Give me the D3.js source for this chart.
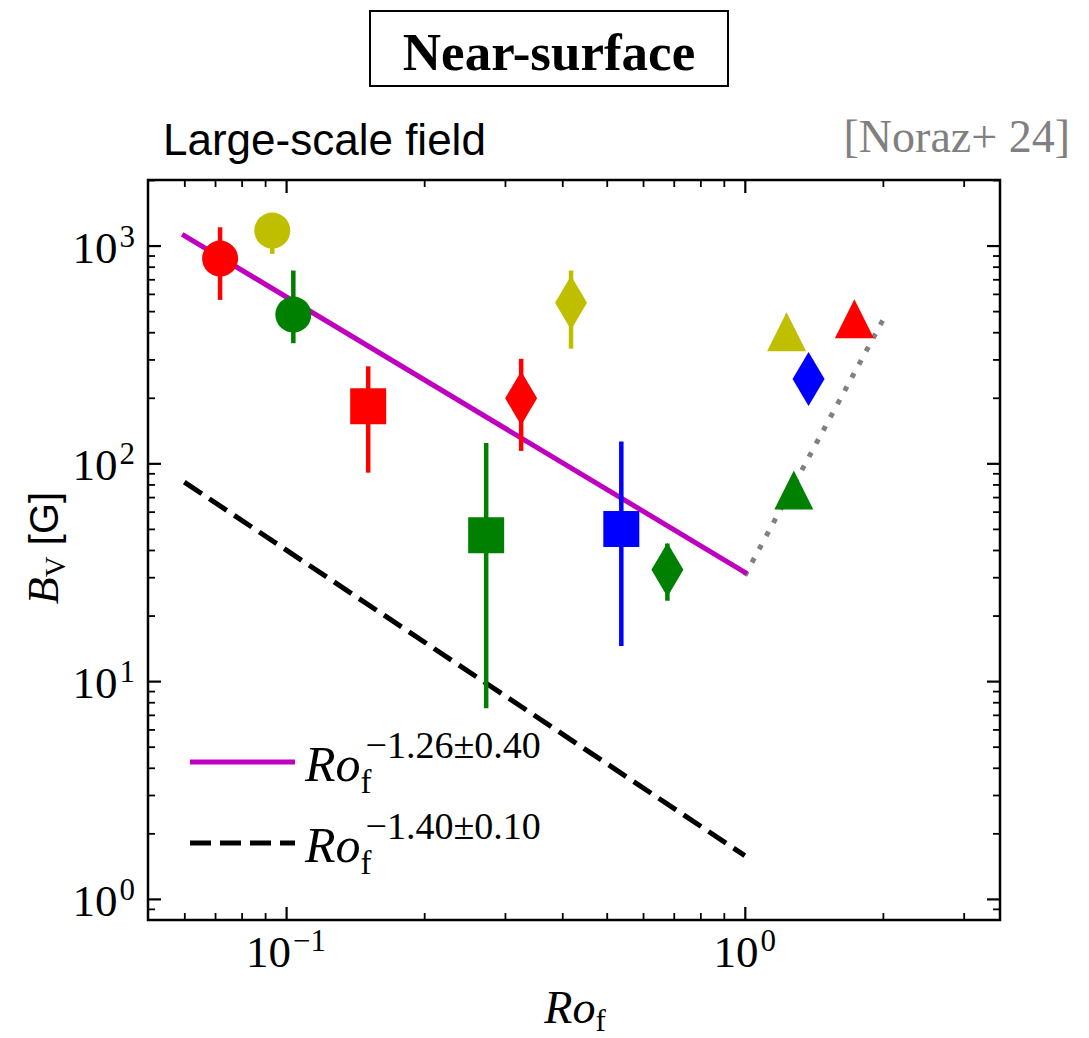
<!DOCTYPE html>
<html><head><meta charset="utf-8">
<script src="https://cdn.jsdelivr.net/npm/d3@7"></script>
<style>body{margin:0;background:#fff}</style>
</head><body><svg id="c" width="1089" height="1038"></svg>
<script>
// ---------------- data ----------------
const rossby   = [0.0718, 0.0933, 0.1037, 0.151, 0.3254, 0.273, 0.418, 0.538, 0.678, 1.233, 1.733, 1.377, 1.279];
const bField   = [871, 1172, 482, 183, 199, 46.7, 546, 50, 32.5, 402, 461, 244, 75.4];
const errLow   = [563, 916, 356, 90.6, 114, 7.5, 336, 14.5, 23.4, null, null, null, null];
const errHigh  = [1213, 1300, 768, 279, 302, 124, 768, 126, 42.8, null, null, null, null];
const shapes   = ["circle","circle","circle","square","diamond","square","diamond","square","diamond","triangle","triangle","diamond","triangle"];
const groups   = ["r","y","g","r","r","g","y","b","g","y","r","b","g"];

const fitRo    = [0.06, 1.0];
const fitB     = [1110, 31.6];          // Ro^-1.26
const refRo    = [0.06, 1.0];
const refB     = [82, 1.58];            // Ro^-1.40
const dotRo    = [1.0, 2.0];
const dotB     = [30.5, 455];

const xMajor = [0.1, 1];
const xMinor = [0.06,0.07,0.08,0.09,0.2,0.3,0.4,0.5,0.6,0.7,0.8,0.9,2,3];
const yMajor = [1, 10, 100, 1000];
const yMinor = [0.9,2,3,4,5,6,7,8,9,20,30,40,50,60,70,80,90,200,300,400,500,600,700,800,900,2000];
const xExp = {0.1:"−1", 1:"0"};
const yExp = {1:"0", 10:"1", 100:"2", 1000:"3"};

const legendLabels = ["−1.26±0.40", "−1.40±0.10"];

// ---------------- setup ----------------
const colors = {r:"#ff0000", y:"#bfbf00", g:"#008000", b:"#0000ff"};
const svg = d3.select("#c");
svg.append("rect").attr("width",1089).attr("height",1038).attr("fill","#fff");

const L=148, R=1000, T=180, B=920;
const x = d3.scaleLog().domain([0.05, 3.6]).range([L, R]);
const y = d3.scaleLog().domain([0.8, 2000]).range([B, T]);

const serif = "'Liberation Serif','Times New Roman',serif";
const sans = "'Liberation Sans',Arial,sans-serif";

// axes (inward ticks, all sides)
function axisPair(gen, tr, majors, minors){
  const gM = svg.append("g").attr("transform", tr)
    .call(gen.tickValues(majors).tickSize(-13).tickSizeOuter(0).tickFormat(""));
  const gm = svg.append("g").attr("transform", tr)
    .call(gen.tickValues(minors).tickSize(-7).tickSizeOuter(0).tickFormat(""));
  [gM, gm].forEach(g=>{ g.select(".domain").remove(); });
  gM.selectAll(".tick line").attr("stroke","#000").attr("stroke-width",2.2);
  gm.selectAll(".tick line").attr("stroke","#000").attr("stroke-width",1.8);
}
axisPair(d3.axisBottom(x), `translate(0,${B})`, xMajor, xMinor);
axisPair(d3.axisTop(x), `translate(0,${T})`, xMajor, xMinor);
axisPair(d3.axisLeft(y), `translate(${L},0)`, yMajor, yMinor);
axisPair(d3.axisRight(y), `translate(${R},0)`, yMajor, yMinor);

// tick labels
function powLabel(px, py, exp, anchor){
  const t = svg.append("text").attr("x",px).attr("y",py).attr("text-anchor",anchor)
    .attr("font-family",serif).attr("font-size",45).attr("fill","#000");
  t.append("tspan").text("10");
  t.append("tspan").attr("font-size",31).attr("dx",2).attr("dy",-16).text(exp);
}
xMajor.forEach(v=> powLabel(x(v), 967, xExp[v], "middle"));
yMajor.forEach(v=> powLabel(L-13, y(v)+17, yExp[v], "end"));

// plot area clip
svg.append("clipPath").attr("id","clip").append("rect").attr("x",L).attr("y",T).attr("width",R-L).attr("height",B-T);
const plot = svg.append("g").attr("clip-path","url(#clip)");

const line = d3.line().x(d=>x(d[0])).y(d=>y(d[1]));
plot.append("path").datum(d3.zip(refRo, refB)).attr("d", line)
  .attr("fill","none").attr("stroke","#000").attr("stroke-width",5).attr("stroke-dasharray","21,9");
plot.append("path").datum(d3.zip(dotRo, dotB)).attr("d", line)
  .attr("fill","none").attr("stroke","#808080").attr("stroke-width",5).attr("stroke-dasharray","5,10");
plot.append("path").datum(d3.zip(fitRo, fitB)).attr("d", line)
  .attr("fill","none").attr("stroke","#bf00bf").attr("stroke-width",5).attr("stroke-linecap","square");

// error bars
rossby.forEach((r,i)=>{
  if (errLow[i]==null) return;
  plot.append("line").attr("x1",x(r)).attr("x2",x(r)).attr("y1",y(errLow[i])).attr("y2",y(errHigh[i]))
    .attr("stroke",colors[groups[i]]).attr("stroke-width",4.5);
});

// markers
const shapeTypes = {
  circle:{draw(c,s){ c.moveTo(18,0); c.arc(0,0,18,0,2*Math.PI); c.closePath(); }},
  square:{draw(c,s){ c.rect(-18,-18,36,36); }},
  diamond:{draw(c,s){ c.moveTo(0,-27); c.lineTo(16,0); c.lineTo(0,27); c.lineTo(-16,0); c.closePath(); }},
  triangle:{draw(c,s){ c.moveTo(0,-19.5); c.lineTo(19.5,19.5); c.lineTo(-19.5,19.5); c.closePath(); }}
};
rossby.forEach((r,i)=>{
  plot.append("path").attr("d", d3.symbol().type(shapeTypes[shapes[i]])())
    .attr("transform",`translate(${x(r)},${y(bField[i])})`)
    .attr("fill",colors[groups[i]]);
});

// frame
svg.append("rect").attr("x",L).attr("y",T).attr("width",R-L).attr("height",B-T)
  .attr("fill","none").attr("stroke","#000").attr("stroke-width",2.5);

// legend
const legY = [762, 843];
svg.append("line").attr("x1",190).attr("x2",295).attr("y1",legY[0]).attr("y2",legY[0])
  .attr("stroke","#bf00bf").attr("stroke-width",5);
svg.append("line").attr("x1",190).attr("x2",295).attr("y1",legY[1]).attr("y2",legY[1])
  .attr("stroke","#000").attr("stroke-width",5).attr("stroke-dasharray","21,9");
legendLabels.forEach((lab,i)=>{
  const t = svg.append("text").attr("x",305).attr("y",legY[i]+19)
    .attr("font-family",serif).attr("font-size",50).attr("fill","#000");
  t.append("tspan").attr("font-style","italic").text("Ro");
  t.append("tspan").attr("font-size",33).attr("dy",12).text("f");
  t.append("tspan").attr("font-size",38).attr("dx",-6).attr("dy",-35).text(lab);
});

// axis labels
const xl = svg.append("text").attr("x",575).attr("y",1023).attr("text-anchor","middle")
  .attr("font-family",serif).attr("font-size",46).attr("fill","#000");
xl.append("tspan").attr("font-style","italic").text("Ro");
xl.append("tspan").attr("font-size",31).attr("dy",8).text("f");

const yl = svg.append("text").attr("transform","translate(58,548) rotate(-90)").attr("text-anchor","middle")
  .attr("font-family",serif).attr("font-size",44).attr("fill","#000");
yl.append("tspan").attr("font-style","italic").text("B");
yl.append("tspan").attr("font-size",29).attr("dy",7).text("V");
yl.append("tspan").attr("font-family",sans).attr("font-size",40).attr("dy",-7).text(" [G]");

// titles
svg.append("rect").attr("x",370).attr("y",11).attr("width",358).attr("height",75)
  .attr("fill","none").attr("stroke","#000").attr("stroke-width",2);
svg.append("text").attr("x",549).attr("y",70).attr("text-anchor","middle")
  .attr("font-family",serif).attr("font-weight","bold").attr("font-size",53).text("Near-surface");
svg.append("text").attr("x",163).attr("y",155)
  .attr("font-family",sans).attr("font-size",44).attr("fill","#000").text("Large-scale field");
svg.append("text").attr("x",1070).attr("y",152).attr("text-anchor","end")
  .attr("font-family",serif).attr("font-size",46).attr("fill","#808080").text("[Noraz+ 24]");
</script></body></html>
